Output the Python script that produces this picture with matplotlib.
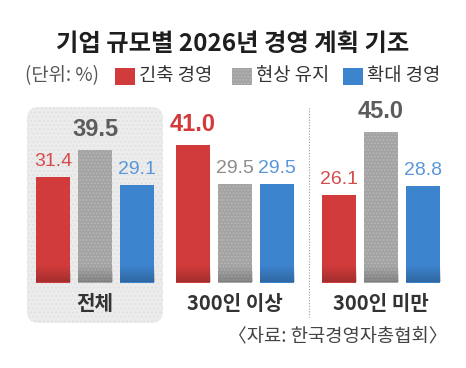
import numpy as np
import matplotlib
matplotlib.use("Agg")
import matplotlib.pyplot as plt
from matplotlib.patches import FancyBboxPatch, Rectangle
from matplotlib.lines import Line2D

# data
groups = ["전체", "300인 이상", "300인 미만"]
series = ["긴축 경영", "현상 유지", "확대 경영"]
shrink = [31.4, 41.0, 26.1]
keep = [39.5, 29.5, 45.0]
expand = [29.1, 29.5, 28.8]
title = "기업 규모별 2026년 경영 계획 기조"
unit = "(단위: %)"
source = "〈자료: 한국경영자총협회〉"

KR = ["Noto Sans CJK KR", "DejaVu Sans"]
NUM = ["Liberation Sans", "DejaVu Sans"]

bar_colors = ["#d23b3b", "#a3a3a3", "#3d84cf"]
hatch_colors = ["#d23b3b", "#b8b8b8", "#3d84cf"]
label_colors = ["#d64b4b", "#8c8c8c", "#5a97d8"]
bold_colors = ["#d43a3a", "#5c5c5c", "#3d84cf"]

W, H = 466, 368
fig = plt.figure(figsize=(W / 100, H / 100), dpi=100)
fig.patch.set_facecolor("white")


def fx(px):
    return px / W


def fy(py):
    return 1 - py / H


# shaded box behind first group (in inches)
box = FancyBboxPatch((27 / 100, (H - 323) / 100), 136 / 100, 216 / 100,
                     boxstyle="round,pad=0,rounding_size=0.12",
                     transform=fig.dpi_scale_trans,
                     facecolor="#ececec", edgecolor="#e2e2e2",
                     linewidth=0, hatch="....", zorder=0)
fig.add_artist(box)

# dotted separator
fig.add_artist(Line2D([fx(309), fx(309)], [fy(108), fy(317)],
                      transform=fig.transFigure, color="#9a9a9a",
                      linestyle=(0, (1, 1.5)), linewidth=0.8))

ax = fig.add_axes([0, fy(282.5), 1, 167.5 / H])
ax.set_xlim(0, W)
ax.set_ylim(0, 50)
ax.axis("off")
ax.patch.set_alpha(0)

group_x = np.array([95, 235, 381])
offsets = [-42, 0, 42]
width = 34.5

plt.rcParams["hatch.linewidth"] = 0.8
values = np.array([shrink, keep, expand])

# darker shade at the foot of each bar
shade = np.zeros((40, 1, 4))
shade[:, 0, 3] = np.linspace(0, 0.22, 40)

for i, vals in enumerate(values):
    xs = group_x + offsets[i]
    ax.bar(xs, vals, width=width, color=bar_colors[i],
           edgecolor=hatch_colors[i], linewidth=0,
           hatch="....." if i == 1 else None, zorder=2)
    for x in xs:
        ax.imshow(shade, extent=(x - width / 2, x + width / 2, 0, 5),
                  aspect="auto", origin="upper", zorder=3,
                  interpolation="bilinear")
ax.set_xlim(0, W)
ax.set_ylim(0, 50)

for g in range(len(groups)):
    top = np.argmax(values[:, g])
    for i in range(3):
        v = values[i, g]
        x = group_x[g] + offsets[i]
        if i == top:
            ax.annotate(f"{v:.1f}", (x, v), xytext=(0, 6.5),
                        textcoords="offset points", ha="center", va="bottom",
                        fontsize=17, fontweight="bold", family=NUM,
                        color=bold_colors[i], annotation_clip=False)
        else:
            ax.annotate(f"{v:.1f}", (x, v), xytext=(0, 5),
                        textcoords="offset points", ha="center", va="bottom",
                        fontsize=14, family=NUM,
                        color=label_colors[i], annotation_clip=False)

for g, name in enumerate(groups):
    fig.text(fx(group_x[g]), fy(303), name, ha="center", va="center",
             fontsize=14.5, fontweight="bold", family=KR, color="#333333")

fig.text(0.5, fy(44), title, ha="center", va="center",
         fontsize=17.5, fontweight="bold", family=KR, color="#1e1e1e")

# legend row
fig.text(fx(25), fy(76), unit, ha="left", va="center",
         fontsize=13.5, family=KR, color="#555555")
sq_x = [115, 232, 343]
for i, name in enumerate(series):
    fig.add_artist(Rectangle((sq_x[i] / 100, (H - 85) / 100), 20 / 100, 17 / 100,
                             transform=fig.dpi_scale_trans,
                             facecolor=bar_colors[i], edgecolor=hatch_colors[i],
                             linewidth=0, hatch="....." if i == 1 else None))
    fig.text(fx(sq_x[i] + 24), fy(76), name, ha="left", va="center",
             fontsize=13.5, family=KR, color="#333333")

fig.text(fx(447), fy(337), source, ha="right", va="center",
         fontsize=13.5, family=KR, color="#444444")

fig.savefig("out.png", dpi=100)
